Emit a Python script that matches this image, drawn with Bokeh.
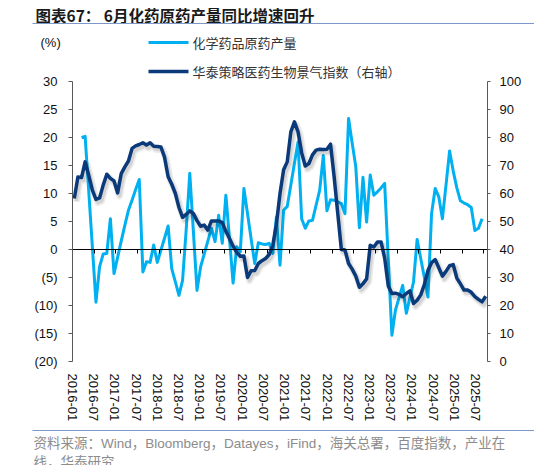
import numpy as np
import pandas as pd
from bokeh.plotting import figure
from bokeh.layouts import column
from bokeh.models import (ColumnDataSource, Range1d, LinearAxis, FixedTicker,
                          Label, BoxAnnotation)
from bokeh.embed import file_html
from bokeh.resources import INLINE

# months on the x axis, 2016-01 .. 2025-07
months = pd.date_range("2016-01-01", "2025-07-01", freq="MS")
month_labels = [m.strftime("%Y-%m") for m in months]

nan = float("nan")

# 化学药品原药产量 同比 (%), left axis, one row per year
production = [
    nan, nan, 20.0, 20.2, 10.4, 0.5, -9.4, -3.1, -0.8, -0.7, 5.5, -4.3,
    -1.4, 1.5, 4.3, 7.0, 8.8, 10.7, 12.5, -4.0, -2.2, -2.3, 0.8, -2.3,
    -0.1, 2.0, 4.2, -3.4, -5.8, -8.2, -5.5, 3.5, 13.6, 3.2, -7.3, -3.1,
    -0.8, 1.5, 3.8, 1.4, 6.1, 1.1, 9.7, 2.0, -6.0, 0.5, -0.4, 10.9,
    6.4, 1.9, -2.5, 1.2, 1.0, 0.9, 1.1, -0.7, 5.8, -2.8, 7.0, 7.7,
    11.5, 15.4, 19.2, 5.5, 3.8, 5.1, 5.2, 7.9, 10.6, 16.8, 6.9, 8.9,
    8.8, 8.5, 8.2, 6.4, 23.4, 19.0, 14.8, 3.9, 12.9, 4.9, 13.3, 9.7,
    10.3, 11.0, 11.8, -1.7, -15.3, -10.8, -8.6, -6.4, -11.4, -8.6, -5.8, 1.8,
    -1.6, -5.0, -8.5, 6.4, 10.9, 9.4, 5.5, 11.5, 17.6, 14.0, 11.0, 8.7,
    8.3, 8.0, 7.5, 3.4, 3.8, 5.5, nan,
]

# 华泰策略医药生物景气指数, right axis
sentiment = [
    58.2, 65.9, 65.7, 71.3, 66.5, 61.2, 57.9, 58.4, 63.0, 66.9, 65.4, 64.5,
    60.2, 67.1, 69.5, 71.6, 76.1, 77.0, 77.5, 78.1, 77.3, 78.1, 76.9, 76.8,
    76.6, 73.0, 66.0, 63.3, 60.0, 55.0, 51.5, 52.5, 53.8, 52.8, 50.3, 48.3,
    48.7, 46.9, 50.2, 50.2, 50.2, 49.6, 46.5, 43.9, 41.2, 39.0, 37.6, 37.7,
    30.0, 32.4, 32.5, 35.0, 36.0, 36.8, 38.2, 41.5, 49.0, 60.0, 68.5, 71.3,
    82.0, 85.6, 82.0, 74.5, 69.8, 70.7, 73.8, 75.5, 75.8, 75.7, 75.8, 77.6,
    66.0, 53.0, 40.0, 39.8, 35.0, 33.0, 30.5, 26.5, 27.8, 29.5, 41.5, 40.9,
    42.7, 42.7, 37.0, 27.0, 24.3, 24.4, 24.0, 23.1, 24.3, 25.2, 20.7, 21.9,
    23.8, 27.5, 32.5, 35.3, 36.4, 33.5, 30.5, 32.2, 34.2, 34.6, 29.8, 27.7,
    25.5, 25.5, 24.7, 23.2, 22.2, 21.3, 23.3,
]

left_ticks = list(range(-20, 31, 5))
right_ticks = list(range(0, 101, 10))
label_ticks = list(range(0, len(months), 6))

NAME_PROD = "化学药品原药产量"
NAME_SENT = "华泰策略医药生物景气指数（右轴）"
TITLE = "图表67：  6月化药原药产量同比增速回升"
SOURCE_1 = "资料来源：Wind，Bloomberg，Datayes，iFind，海关总署，百度指数，产业在"
SOURCE_2 = "线，华泰研究"

LIGHT = "#00b0f0"
DARK = "#0b3a7a"
RULE = "#7b98c6"
AXIS = "#595959"
TEXT = "#111111"
NOTE = "#8c8c8c"
LATIN = "Liberation Sans"
CJK = "Noto Sans CJK SC"
MIXED = "Liberation Sans, 'Noto Sans CJK SC'"
W = 534


def bare(height):
    # a figure whose frame is the whole canvas, for the header and the source note
    f = figure(width=W, height=height, output_backend="svg", toolbar_location=None,
               title=None, x_range=Range1d(0, W), y_range=Range1d(0, height),
               x_axis_location=None, y_axis_location=None, outline_line_color=None,
               min_border=0, min_border_left=0, min_border_right=0,
               min_border_top=0, min_border_bottom=0, frame_align=False)
    f.xgrid.visible = False
    f.ygrid.visible = False
    return f


def key(fig, color, width, label, x, y, units="data"):
    # legend entry: short coloured bar plus its name
    fig.add_layout(BoxAnnotation(left=x, right=x + 40, bottom=y - width / 2, top=y + width / 2,
                                 left_units=units, right_units=units,
                                 bottom_units=units, top_units=units,
                                 fill_color=color, fill_alpha=1, line_color=None))
    fig.add_layout(Label(x=x + 44, y=y, x_units=units, y_units=units, text=label,
                         text_font=CJK, text_font_size="13px", text_baseline="middle",
                         text_color="#333333"))


# ---- header: title, rule, unit and first legend entry
head = bare(56)
head.add_layout(Label(x=35, y=42, text=TITLE, text_font=CJK, text_font_style="bold",
                      text_font_size="15.5px", text_baseline="middle", text_color="#1a1a1a"))
head.add_layout(BoxAnnotation(left=32, right=W, bottom=32.4, top=33.6,
                              fill_color=RULE, fill_alpha=1, line_color=None))
head.add_layout(Label(x=40, y=14, text="(%)", text_font=LATIN, text_font_size="13px",
                      text_baseline="middle", text_color=TEXT))
key(head, LIGHT, 3, NAME_PROD, 148, 14)

# ---- main chart
source = ColumnDataSource(dict(
    x=np.arange(len(months)) + 0.5,
    production=production,
    sentiment=sentiment,
))

frame_h = 305
p = figure(width=W, height=373, output_backend="svg", toolbar_location=None,
           title=None, x_range=Range1d(0, len(months)),
           y_range=Range1d(-20, -20 + frame_h / 5.6),
           x_axis_location=None, y_axis_location=None,
           min_border_left=72, min_border_right=47, min_border_top=0,
           min_border_bottom=373 - frame_h, outline_line_color=None,
           frame_align=False)
p.xgrid.visible = False
p.ygrid.visible = False

p.extra_y_ranges = {"right": Range1d(0, frame_h / 2.8),
                    "shadow_y": Range1d(1.07, frame_h / 2.8 + 1.07)}
p.extra_x_ranges = {"labels": Range1d(0, 117.4),
                    "shadow_x": Range1d(-0.55, len(months) - 0.55)}

p.line("x", "production", source=source, line_color=LIGHT,
       line_width=3, line_join="round")
# soft drop shadow under the index line
p.line("x", "sentiment", source=source, x_range_name="shadow_x", y_range_name="shadow_y",
       line_color="black", line_alpha=0.08, line_width=7, line_join="round")
p.line("x", "sentiment", source=source, x_range_name="shadow_x", y_range_name="shadow_y",
       line_color="black", line_alpha=0.10, line_width=3.5, line_join="round")
p.line("x", "sentiment", source=source, y_range_name="right",
       line_color=DARK, line_width=3.5, line_join="round")

left = LinearAxis(ticker=FixedTicker(ticks=left_ticks), bounds=(-20, 30),
                  major_label_overrides={t: (f"({-t})" if t < 0 else str(t)) for t in left_ticks},
                  axis_line_color=AXIS, major_tick_line_color=AXIS,
                  major_tick_out=4, major_tick_in=0, minor_tick_line_color=None,
                  major_label_standoff=11, major_label_text_font=LATIN,
                  major_label_text_font_size="13px", major_label_text_color=TEXT)
p.add_layout(left, "left")

right = LinearAxis(y_range_name="right", ticker=FixedTicker(ticks=right_ticks), bounds=(0, 100),
                   axis_line_color=AXIS, major_tick_line_color=AXIS,
                   major_tick_out=3, major_tick_in=0, minor_tick_line_color=None,
                   major_label_standoff=9, major_label_text_font=LATIN,
                   major_label_text_font_size="13px", major_label_text_color=TEXT)
p.add_layout(right, "right")

bottom = LinearAxis(x_range_name="labels", ticker=FixedTicker(ticks=label_ticks),
                    major_label_overrides={t: month_labels[t] for t in label_ticks},
                    major_label_orientation="vertical",
                    axis_line_color=None, major_tick_line_color=None,
                    major_tick_out=0, major_tick_in=0, minor_tick_line_color=None,
                    major_label_standoff=12, major_label_text_font=LATIN,
                    major_label_text_font_size="13px", major_label_text_color=TEXT)
p.add_layout(bottom, "below")

# category axis crossing at zero: line and tick marks only
zero_axis = LinearAxis(fixed_location=0, ticker=FixedTicker(ticks=label_ticks),
                       major_label_overrides={t: "" for t in label_ticks},
                       axis_line_color="black", major_tick_line_color="black",
                       major_tick_out=4, major_tick_in=0, minor_tick_line_color=None,
                       major_label_text_font_size="1px", major_label_standoff=0)
p.add_layout(zero_axis, "below")

# second legend entry sits just above the axes (frame-relative pixels)
key(p, DARK, 3.5, NAME_SENT, 148 - 72, frame_h - 15, units="screen")

# ---- source note
foot = bare(36)
foot.add_layout(BoxAnnotation(left=32, right=W, bottom=34.4, top=35.6,
                              fill_color=RULE, fill_alpha=1, line_color=None))
foot.add_layout(Label(x=33, y=22, text=SOURCE_1, text_font=MIXED, text_font_size="13.5px",
                      text_baseline="middle", text_color=NOTE))
foot.add_layout(Label(x=33, y=3, text=SOURCE_2, text_font=MIXED, text_font_size="13.5px",
                      text_baseline="middle", text_color=NOTE))

page = column(head, p, foot)
open("out.html", "w").write(file_html(page, INLINE))
